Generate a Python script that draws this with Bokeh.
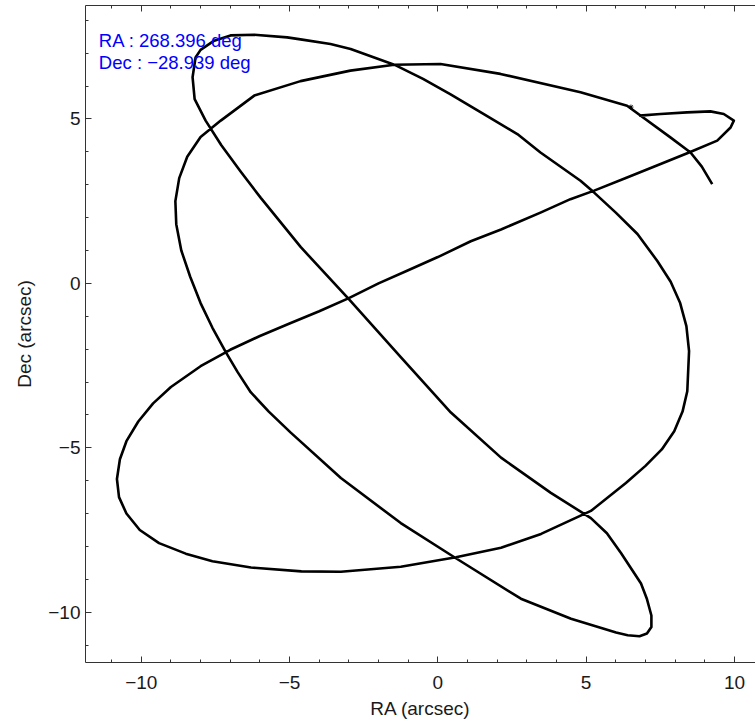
from bokeh.plotting import figure
from bokeh.models import Range1d, LinearAxis, Label, SingleIntervalTicker, CustomJSTickFormatter
from bokeh.embed import file_html
from bokeh.resources import INLINE

# Pointing track (arcsec offsets)
ra = [6.79, 7.51, 8.40, 9.19, 9.64, 9.98, 9.87, 9.42, 8.47, 7.51, 6.38, 5.27, 4.47, 3.46, 2.13, 1.11,
      0.00, -1.00, -2.00, -3.00, -4.00, -5.00, -6.00, -7.00, -8.00, -9.00, -9.60, -10.10, -10.50,
      -10.72, -10.82, -10.75, -10.50, -10.05, -9.40, -8.50, -7.60, -6.30, -4.60, -3.27, -1.25, 0.61,
      2.13, 3.48, 5.16, 6.34, 7.00, 7.55, 7.97, 8.25, 8.41, 8.47, 8.38, 8.17, 7.85, 7.40, 6.73, 6.00,
      5.27, 4.81, 3.46, 2.68, 1.55, 0.43, -0.50, -1.47, -2.94, -3.62, -4.63, -5.08, -6.19, -6.99,
      -7.54, -8.00, -8.17, -8.27, -8.20, -7.83, -7.30, -6.65, -5.97, -4.62, -3.00, -1.25, 0.44, 2.13,
      3.81, 5.16, 5.70, 6.18, 6.85, 7.05, 7.20, 7.20, 7.05, 6.80, 6.40, 6.01, 4.49, 2.80, 0.61, -1.25,
      -3.27, -4.96, -5.70, -6.31, -6.75, -7.15, -7.60, -8.00, -8.35, -8.65, -8.82, -8.85, -8.72,
      -8.45, -8.00, -7.32, -6.19, -4.63, -2.95, -1.47, 0.09, 2.11, 4.81, 6.38, 7.84, 8.52, 8.90, 9.25]
dec = [5.10, 5.15, 5.20, 5.23, 5.15, 4.95, 4.74, 4.34, 3.98, 3.63, 3.22, 2.82, 2.56, 2.15, 1.64, 1.28,
       0.80, 0.40, 0.00, -0.45, -0.85, -1.22, -1.60, -2.02, -2.52, -3.15, -3.65, -4.20, -4.80,
       -5.35, -5.95, -6.50, -7.00, -7.50, -7.90, -8.22, -8.45, -8.64, -8.76, -8.77, -8.62, -8.33,
       -8.04, -7.62, -6.92, -6.07, -5.55, -5.05, -4.50, -3.90, -3.28, -2.06, -1.30, -0.60, 0.05, 0.68,
       1.50, 2.15, 2.76, 3.12, 3.98, 4.54, 5.15, 5.75, 6.22, 6.65, 7.13, 7.28, 7.42, 7.48, 7.56, 7.54,
       7.38, 7.10, 6.87, 6.27, 5.60, 4.95, 4.20, 3.40, 2.60, 1.10, -0.48, -2.24, -3.93, -5.30,
       -6.37, -7.14, -7.60, -8.21, -9.13, -9.60, -10.10, -10.45, -10.65, -10.73, -10.70, -10.62, -10.20,
       -9.59, -8.36, -7.29, -5.92, -4.54, -3.90, -3.31, -2.70, -2.09, -1.35, -0.60, 0.20, 1.00, 1.80,
       2.50, 3.20, 3.85, 4.45, 4.95, 5.71, 6.15, 6.47, 6.65, 6.67, 6.37, 5.81, 5.40, 4.44, 3.98, 3.55, 3.02]

star_ra = [6.51]
star_dec = [5.36]

center_ra_text = "RA : 268.396 deg"
center_dec_text = "Dec : \u221228.939 deg"

tick_overrides = {-10: "\u221210", -5: "\u22125", 0: "0", 5: "5", 10: "10"}

FONT = "Liberation Sans"

p = figure(width=755, height=721,
           x_range=Range1d(-11.88, 10.71), y_range=Range1d(-11.53, 8.45),
           output_backend="svg", toolbar_location=None,
           min_border_left=85, min_border_right=0, min_border_top=5, min_border_bottom=0,
           x_axis_label="RA (arcsec)", y_axis_label="Dec (arcsec)")
p.grid.visible = False
p.outline_line_color = None
p.background_fill_color = "white"
p.border_fill_color = "white"

for ax in (p.xaxis[0], p.yaxis[0]):
    ax.ticker = SingleIntervalTicker(interval=5, num_minor_ticks=5)
    ax.major_tick_in = 6
    ax.major_tick_out = 0
    ax.minor_tick_in = 3
    ax.minor_tick_out = 0
    ax.axis_line_color = "#333333"
    ax.major_tick_line_color = "#333333"
    ax.minor_tick_line_color = "#333333"
    ax.major_label_text_font = FONT
    ax.major_label_text_font_size = "19px"
    ax.major_label_text_color = "#1a1a1a"
    ax.axis_label_text_font = FONT
    ax.axis_label_text_font_size = "19px"
    ax.axis_label_text_font_style = "normal"
    ax.axis_label_text_color = "#1a1a1a"
    ax.major_label_overrides = tick_overrides

p.xaxis[0].major_label_standoff = 13
p.xaxis[0].axis_label_standoff = 6
p.yaxis[0].major_label_standoff = 5
p.yaxis[0].axis_label_standoff = 10

top = LinearAxis(ticker=SingleIntervalTicker(interval=5, num_minor_ticks=5),
                 formatter=CustomJSTickFormatter(code="return '';"),
                 major_tick_in=6, major_tick_out=0, minor_tick_in=3, minor_tick_out=0,
                 major_label_text_font_size="0px", major_label_standoff=0,
                 axis_line_color="#333333", major_tick_line_color="#333333",
                 minor_tick_line_color="#333333")
p.add_layout(top, "above")

p.line(ra, dec, line_width=2.6, line_color="black", line_join="round")
p.scatter(star_ra, star_dec, marker="asterisk", size=5, line_color="black", line_width=1)

p.add_layout(Label(x=-11.43, y=7.38, text=center_ra_text, text_color="blue",
                   text_font=FONT, text_font_size="18.5px", text_baseline="alphabetic"))
p.add_layout(Label(x=-11.43, y=6.72, text=center_dec_text, text_color="blue",
                   text_font=FONT, text_font_size="18.5px", text_baseline="alphabetic"))

open("out.html", "w").write(file_html(p, INLINE))
